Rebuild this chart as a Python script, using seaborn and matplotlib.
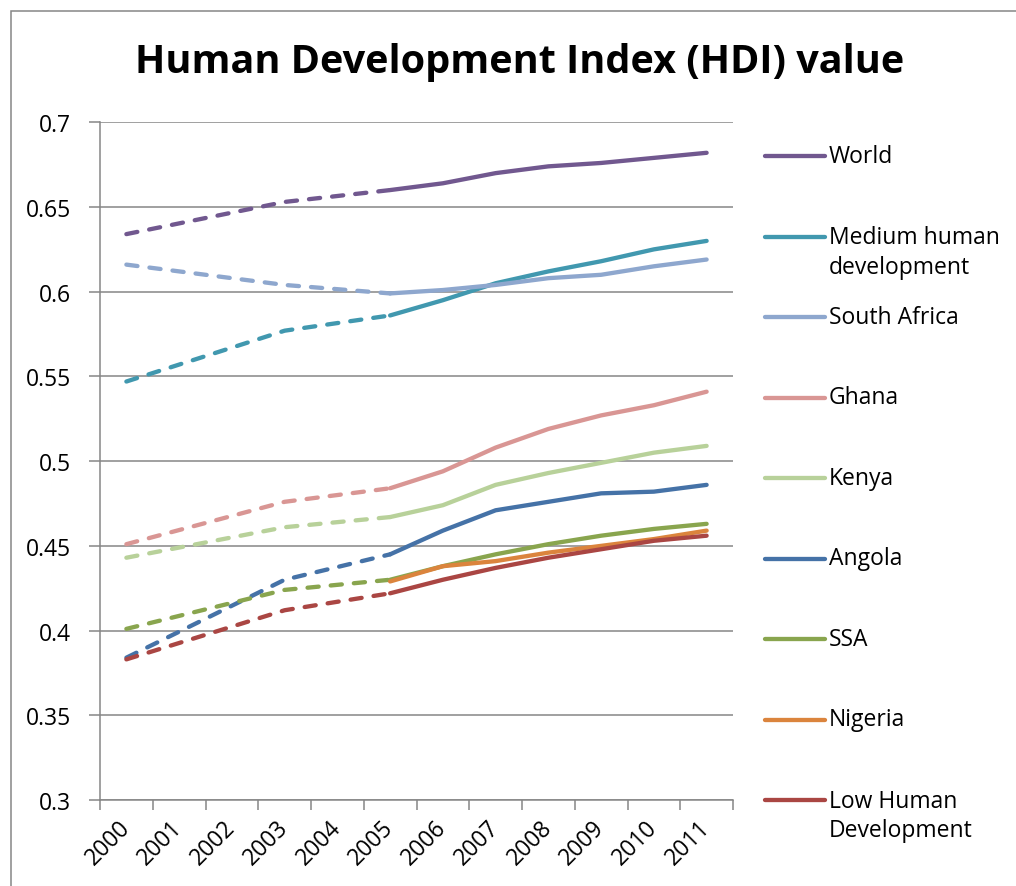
import numpy as np
import pandas as pd
import seaborn as sns
from matplotlib import pyplot as plt
from matplotlib.lines import Line2D
from matplotlib.patches import Rectangle

# HDI values (None = no point for that year)
years = [2000, 2001, 2002, 2003, 2004, 2005, 2006, 2007, 2008, 2009, 2010, 2011]
world = [0.634, None, None, 0.653, None, 0.660, 0.664, 0.670, 0.674, 0.676, 0.679, 0.682]
medium_hd = [0.547, None, None, 0.577, None, 0.586, 0.595, 0.605, 0.612, 0.618, 0.625, 0.630]
south_africa = [0.616, None, None, 0.604, None, 0.599, 0.601, 0.604, 0.608, 0.610, 0.615, 0.619]
ghana = [0.451, None, None, 0.476, None, 0.484, 0.494, 0.508, 0.519, 0.527, 0.533, 0.541]
kenya = [0.443, None, None, 0.461, None, 0.467, 0.474, 0.486, 0.493, 0.499, 0.505, 0.509]
angola = [0.384, None, None, 0.430, None, 0.445, 0.459, 0.471, 0.476, 0.481, 0.482, 0.486]
ssa = [0.401, None, None, 0.424, None, 0.430, 0.438, 0.445, 0.451, 0.456, 0.460, 0.463]
nigeria = [None, None, None, None, None, 0.429, 0.438, 0.441, 0.446, 0.450, 0.454, 0.459]
low_hd = [0.383, None, None, 0.412, None, 0.422, 0.430, 0.437, 0.443, 0.448, 0.453, 0.456]

labels = ['World', 'Medium human\ndevelopment', 'South Africa', 'Ghana', 'Kenya',
          'Angola', 'SSA', 'Nigeria', 'Low Human\nDevelopment']
series = [world, medium_hd, south_africa, ghana, kenya, angola, ssa, nigeria, low_hd]
colors = ['#71588F', '#4198AF', '#8EA7CE', '#D99694', '#B8D19A',
          '#4572A7', '#89A54E', '#DB843D', '#AA4643']
ytick_labels = ['0.3', '0.35', '0.4', '0.45', '0.5', '0.55', '0.6', '0.65', '0.7']

sns.set_theme(style='white')
plt.rcParams['font.family'] = ['Open Sans', 'DejaVu Sans']
plt.rcParams['text.color'] = 'black'

W, H = 1016, 887
fig = plt.figure(figsize=(W / 100, H / 100), dpi=100)
ax = fig.add_axes([100 / W, 1 - 801 / H, 633 / W, (801 - 123.3) / H])

grey = '#868686'
for name, vals, col in zip(labels, series, colors):
    df = pd.DataFrame({'year': years, 'hdi': vals}).dropna()
    df['x'] = df['year'] - years[0]
    est = df[df['year'] <= 2005]
    obs = df[df['year'] >= 2005]
    if len(est) > 1:
        sns.lineplot(data=est, x='x', y='hdi', color=col, lw=3.1, estimator=None,
                     linestyle=(0, (2.6, 2.8)), ax=ax, legend=False)
    sns.lineplot(data=obs, x='x', y='hdi', color=col, lw=3.1, estimator=None, ax=ax, legend=False)

for ln in ax.lines:
    ln.set_dash_capstyle('round')
    ln.set_solid_capstyle('round')

ax.set_ylim(0.3, 0.7)
ax.set_yticks(np.arange(0.3, 0.701, 0.05))
ax.set_yticklabels(ytick_labels)
ax.set_xlim(-0.5, len(years) - 0.5)
ax.set_xticks(np.arange(-0.5, len(years), 1.0))
ax.set_xticklabels([])
ax.set_xticks(range(len(years)), minor=True)
ax.set_xticklabels([str(y) for y in years], minor=True, rotation=45, ha='right',
                   va='center', rotation_mode='anchor')
ax.tick_params(axis='x', which='major', length=7, width=1.1, color=grey, direction='out', bottom=True)
ax.tick_params(axis='x', which='minor', length=0, pad=17, labelsize=16.5, labelcolor='black')
ax.tick_params(axis='y', length=8, width=1.1, color=grey, direction='out', left=True,
               labelsize=16.5, pad=13, labelcolor='black')
ax.set_xlabel('')
ax.set_ylabel('')
ax.grid(axis='y', color=grey, lw=1.1)
ax.set_axisbelow(True)
for side in ['top', 'right']:
    ax.spines[side].set_visible(False)
for side in ['left', 'bottom']:
    ax.spines[side].set_color(grey)
    ax.spines[side].set_linewidth(1.1)

fig.text(520 / W, 1 - 63 / H, 'Human Development Index (HDI) value', ha='center', va='center',
         fontsize=28.5, fontweight='bold')

# legend laid out like the Excel one: first line of each entry evenly spaced
for i, (name, col) in enumerate(zip(labels, colors)):
    y = 157 + i * 80.5
    fig.add_artist(Line2D([765 / W, 825 / W], [1 - y / H, 1 - y / H], color=col, lw=3.1,
                          solid_capstyle='round'))
    nlines = name.count('\n') + 1
    yc = y + (nlines - 1) * 15.5
    fig.text(829 / W, 1 - yc / H, name, ha='left', va='center', fontsize=16.5, linespacing=1.3)

fig.add_artist(Rectangle((11 / W, -0.1), 1.2, 1.1 - 12 / H, transform=fig.transFigure,
                         fill=False, edgecolor=grey, lw=1.1))

fig.savefig('out.png', dpi=100)
